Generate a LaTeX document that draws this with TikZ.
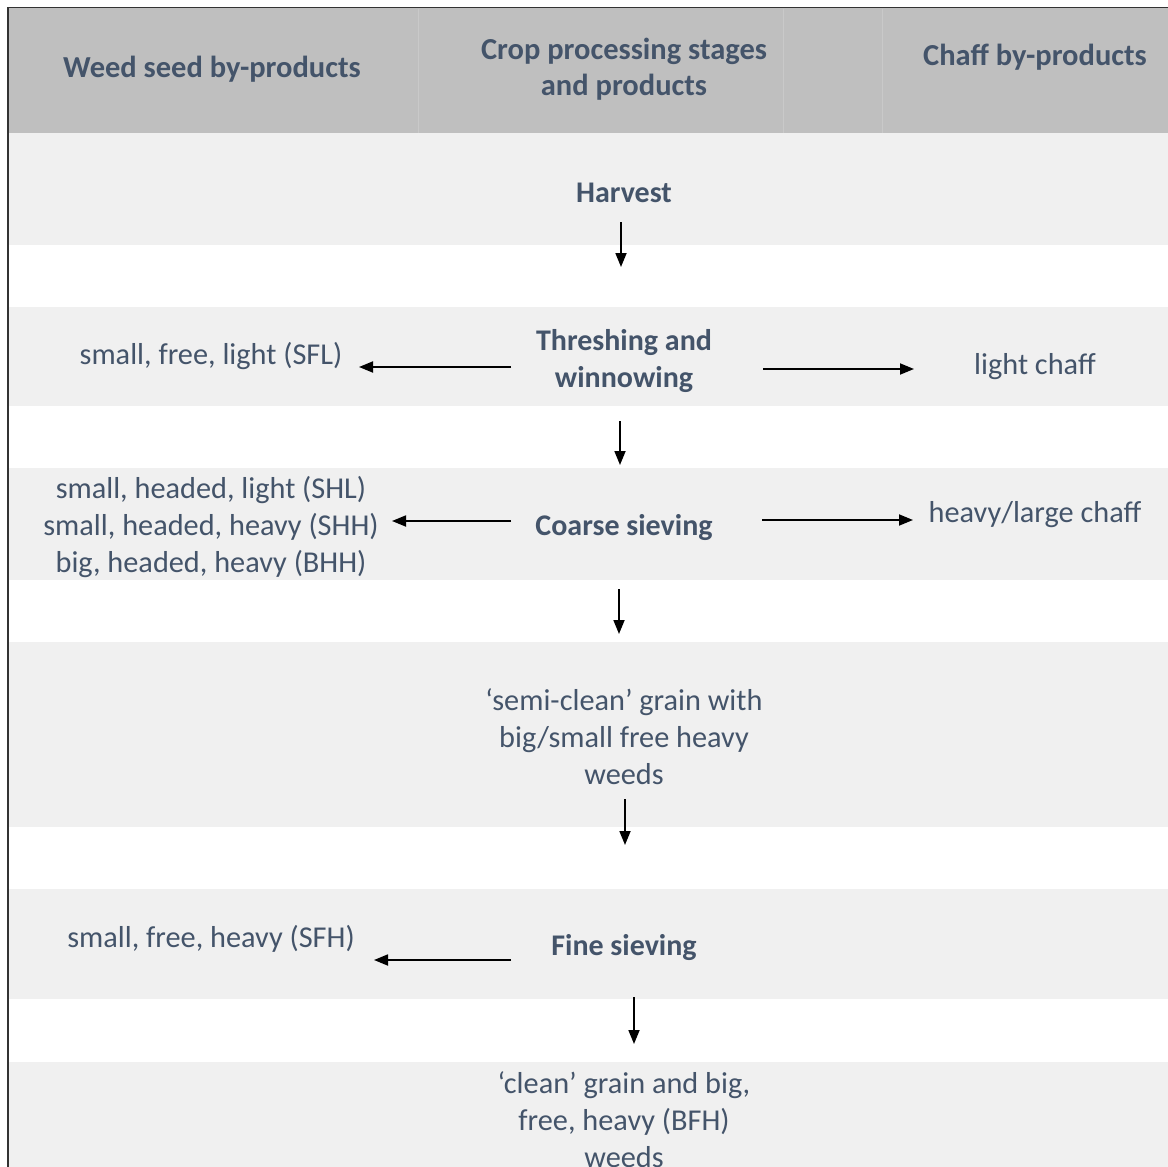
\documentclass[tikz,border=0pt]{standalone}
\usepackage{fontspec}
\setmainfont{Carlito}
\usetikzlibrary{arrows.meta}
\definecolor{hdr}{HTML}{BFBFBF}
\definecolor{hdrline}{HTML}{C9C9C9}
\definecolor{rowg}{HTML}{F0F0F0}
\definecolor{txt}{HTML}{44546A}
\definecolor{frame}{HTML}{333333}
\begin{document}
\begin{tikzpicture}[x=1pt,y=-1pt,
  hd/.style={font=\fontsize{30.5}{36}\selectfont\bfseries, text=txt, align=center, inner sep=0pt},
  stage/.style={font=\fontsize{30}{37}\selectfont\bfseries, text=txt, align=center, inner sep=0pt},
  prod/.style={font=\fontsize{30.3}{37}\selectfont, text=txt, align=center, inner sep=0pt},
  flow/.style={line width=1.8pt, draw=black, -{Triangle[length=14pt,width=11pt]}},
  band/.style={fill=rowg, draw=none}]
\useasboundingbox (0,0) rectangle (1168,1167);
\fill[white] (0,0) rectangle (1168,1167);
% header and row bands
\fill[hdr] (9,8) rectangle (1168,133);
\draw[hdrline, line width=0.8pt] (418,9) -- (418,133) (783,9) -- (783,133) (882,9) -- (882,133);
\fill[band] (9,133) rectangle (1168,245);
\fill[band] (9,307) rectangle (1168,406);
\fill[band] (9,468) rectangle (1168,580);
\fill[band] (9,642) rectangle (1168,827);
\fill[band] (9,889) rectangle (1168,999);
\fill[band] (9,1062) rectangle (1168,1167);
% frame
\draw[frame, line width=1.6pt] (8,1168) -- (8,7.5) -- (1168,7.5);
% headers
\node[hd] (h1) at (212,69) {Weed seed by-products};
\node[hd] (h2) at (624,69) {Crop processing stages\\and products};
\node[hd] (h3) at (1035,57) {Chaff by-products};
% stages
\node[stage] (harvest) at (624,193) {Harvest};
\node[stage] (thresh) at (624,361) {Threshing and\\winnowing};
\node[stage] (coarse) at (624,528) {Coarse sieving};
\node[prod] (semi) at (624,737) {‘semi-clean’ grain with\\big/small free heavy\\weeds};
\node[stage] (fine) at (624,948) {Fine sieving};
\node[prod] (clean) at (624,1120) {‘clean’ grain and big,\\free, heavy (BFH)\\weeds};
% by-products
\node[prod] (sfl) at (211,356) {small, free, light (SFL)};
\node[prod] (lchaff) at (1035,367) {light chaff};
\node[prod] (shl) at (211,527) {small, headed, light (SHL)\\small, headed, heavy (SHH)\\big, headed, heavy (BHH)};
\node[prod] (hchaff) at (1035,515) {heavy/large chaff};
\node[prod] (sfh) at (211,939) {small, free, heavy (SFH)};
% connector end points
\coordinate (v1a) at (621,222); \coordinate (v1b) at (621,267);
\coordinate (v2a) at (620,421); \coordinate (v2b) at (620,465);
\coordinate (v3a) at (619,589); \coordinate (v3b) at (619,634);
\coordinate (v4a) at (625,799); \coordinate (v4b) at (625,845);
\coordinate (v5a) at (634,997); \coordinate (v5b) at (634,1044);
\coordinate (l1a) at (511,367); \coordinate (l1b) at (359,367);
\coordinate (r1a) at (763,369); \coordinate (r1b) at (914,369);
\coordinate (l2a) at (511,521); \coordinate (l2b) at (392,521);
\coordinate (r2a) at (762,520); \coordinate (r2b) at (913,520);
\coordinate (l3a) at (511,960); \coordinate (l3b) at (374,960);
% connectors
\draw[flow] (v1a) -- (v1b);
\draw[flow] (v2a) -- (v2b);
\draw[flow] (v3a) -- (v3b);
\draw[flow] (v4a) -- (v4b);
\draw[flow] (v5a) -- (v5b);
\draw[flow] (l1a) -- (l1b);
\draw[flow] (r1a) -- (r1b);
\draw[flow] (l2a) -- (l2b);
\draw[flow] (r2a) -- (r2b);
\draw[flow] (l3a) -- (l3b);
\end{tikzpicture}
\end{document}
